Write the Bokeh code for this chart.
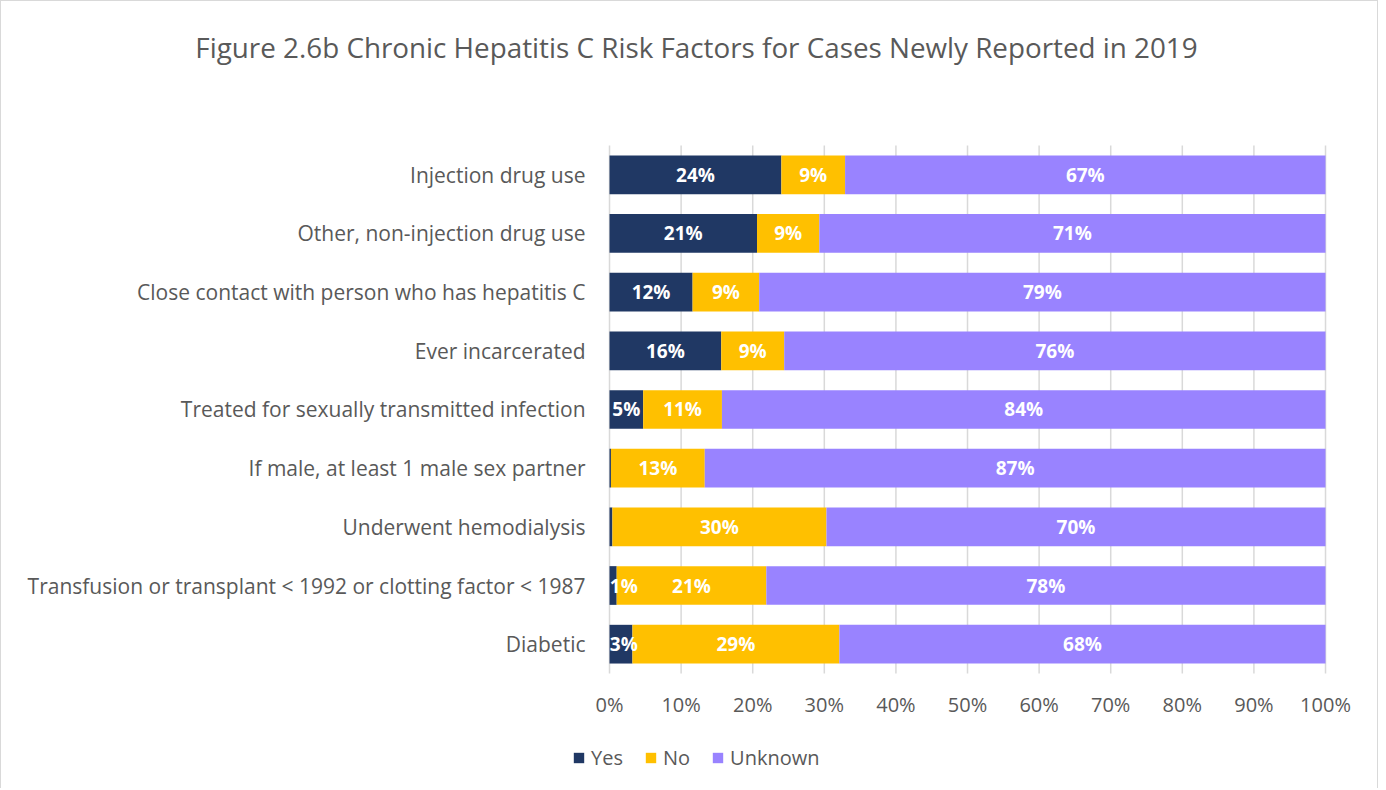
import numpy as np
from bokeh.plotting import figure
from bokeh.models import ColumnDataSource, FixedTicker, Legend, LegendItem, Range1d, Label
from bokeh.core.properties import value
from bokeh.embed import file_html
from bokeh.resources import INLINE

categories = [
    "Injection drug use",
    "Other, non-injection drug use",
    "Close contact with person who has hepatitis C",
    "Ever incarcerated",
    "Treated for sexually transmitted infection",
    "If male, at least 1 male sex partner",
    "Underwent hemodialysis",
    "Transfusion or transplant < 1992 or clotting factor < 1987",
    "Diabetic",
]
yes_vals = [24.0, 20.6, 11.6, 15.6, 4.7, 0.2, 0.4, 1.0, 3.2]
no_vals = [8.9, 8.7, 9.3, 8.8, 11.0, 13.1, 29.9, 20.9, 28.9]
unknown_vals = [67.1, 70.7, 79.1, 75.6, 84.3, 86.7, 69.7, 78.1, 67.9]
series_names = ["Yes", "No", "Unknown"]
series_colors = ["#203864", "#FFC000", "#9983FF"]
x_ticks = [0, 10, 20, 30, 40, 50, 60, 70, 80, 90, 100]
x_tick_labels = ["0%", "10%", "20%", "30%", "40%", "50%", "60%", "70%", "80%", "90%", "100%"]
title_text = "Figure 2.6b Chronic Hepatitis C Risk Factors for Cases Newly Reported in 2019"

FONT = "Open Sans"
GRAY = "#595959"

n = len(categories)
ypos = [n - 1 - i for i in range(n)]  # first category on top
band_lo, band_hi = -0.5, n - 0.5

source = ColumnDataSource(dict(cat=categories, y=ypos, Yes=yes_vals, No=no_vals, Unknown=unknown_vals))

p = figure(
    width=1378, height=788,
    x_range=Range1d(-84.92, 107.54), y_range=Range1d(-2.477, 10.954),
    output_backend="svg", toolbar_location=None,
    min_border_left=0, min_border_right=0, min_border_top=0, min_border_bottom=0,
)
p.styles = {"border-left": "1px solid #D9D9D9", "border-top": "1px solid #D9D9D9",
            "border-right": "1px solid #D9D9D9"}
p.outline_line_color = None
p.xgrid.grid_line_color = None
p.ygrid.grid_line_color = None

# vertical gridlines over the category band
p.segment(x0=x_ticks, y0=[band_lo] * len(x_ticks), x1=x_ticks, y1=[band_hi] * len(x_ticks),
          line_color="#D9D9D9", line_width=1.5)

renderers = p.hbar_stack(series_names, y="y", height=0.66, color=series_colors,
                         line_color=None, source=source)

# data labels (kept inside the plot area like the original)
vals = [np.array(yes_vals), np.array(no_vals), np.array(unknown_vals)]
left = np.zeros(n)
for v in vals:
    centers = np.maximum(left + v / 2, 2.0)
    mask = v >= 0.5
    labels = [f"{int(round(x))}%" for x in v[mask]]
    p.text(x=centers[mask], y=[yy for yy, m in zip(ypos, mask) if m], text=labels,
           text_align="center", text_baseline="middle", text_color="white",
           text_font=value(FONT), text_font_style="bold", text_font_size="19px")
    left = left + v

# title
p.add_layout(Label(x=12.15, y=10.17, text=title_text, text_align="center", text_baseline="middle",
                   text_font=FONT, text_font_size="27.8px", text_color=GRAY))

# x axis drawn just under the bars
p.xaxis.fixed_location = band_lo
p.xaxis.ticker = FixedTicker(ticks=x_ticks)
p.xaxis.major_label_overrides = {t: l for t, l in zip(x_ticks, x_tick_labels)}
p.xaxis.axis_line_color = None
p.xaxis.major_tick_line_color = None
p.xaxis.minor_tick_line_color = None
p.xaxis.major_tick_out = 0
p.xaxis.major_tick_in = 0
p.xaxis.major_label_standoff = 17
p.xaxis.major_label_text_font = FONT
p.xaxis.major_label_text_font_size = "20px"
p.xaxis.major_label_text_color = GRAY

# category axis at x = 0
p.yaxis.fixed_location = 0
p.yaxis.ticker = FixedTicker(ticks=ypos)
p.yaxis.major_label_overrides = {yy: c for yy, c in zip(ypos, categories)}
p.yaxis.axis_line_color = None
p.yaxis.major_tick_line_color = None
p.yaxis.minor_tick_line_color = None
p.yaxis.major_tick_out = 0
p.yaxis.major_tick_in = 0
p.yaxis.major_label_standoff = 24
p.yaxis.major_label_text_font = FONT
p.yaxis.major_label_text_font_size = "21px"
p.yaxis.major_label_text_color = GRAY

legend = Legend(
    items=[LegendItem(label=s, renderers=[r]) for s, r in zip(series_names, renderers)],
    orientation="horizontal", location=(571, 18),
    label_text_font=FONT, label_text_font_size="20px", label_text_color=GRAY,
    glyph_width=13, glyph_height=13, label_standoff=6, spacing=21,
    border_line_color=None, background_fill_alpha=0, padding=0, margin=0,
)
p.add_layout(legend, "center")

open("out.html", "w").write(file_html(p, INLINE))
